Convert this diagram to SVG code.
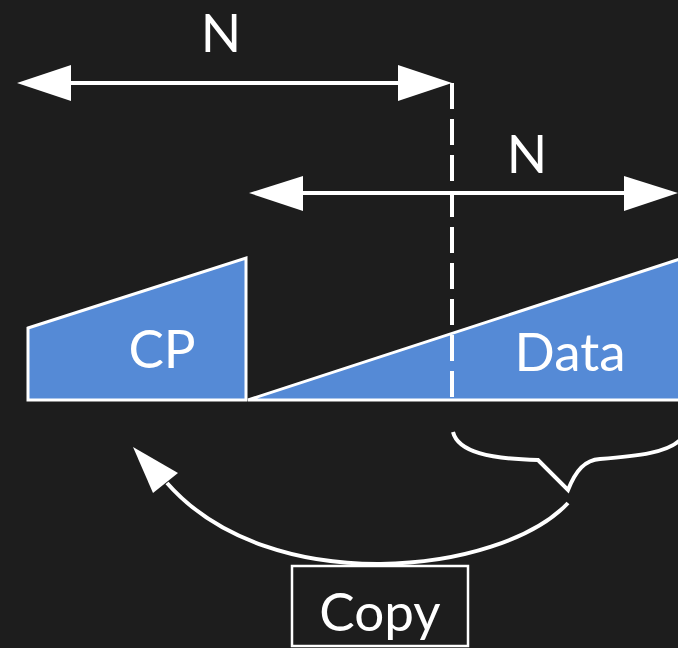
<svg xmlns="http://www.w3.org/2000/svg" width="678" height="648" viewBox="0 0 678 648">
<style>
.bg{fill:#1d1d1d}
.ln{stroke:#fff;stroke-width:4;fill:none}
.ah{fill:#fff}
.shape{fill:#558ad6;stroke:#fff;stroke-width:3;stroke-linejoin:miter}
.t{font-family:Lato,"Open Sans",sans-serif;font-size:53px;fill:#fff;text-anchor:middle}
</style>
<rect class="bg" x="0" y="0" width="678" height="648"/>
<g id="shapes">
<g id="cp"><polygon class="shape" points="28,328 246,258 246,400 28,400"/><text class="t" x="162" y="368">CP</text></g>
<g id="data"><polygon class="shape" points="248,400 680,259 680,400"/><text class="t" x="570" y="371">Data</text></g>
</g>
<g id="connectors">
<line class="ln" x1="452" y1="83" x2="452" y2="398" stroke-dasharray="26 10" stroke-width="3"/>
<line class="ln" x1="60" y1="83" x2="410" y2="83"/>
<polygon class="ah" points="17,83 71,65 71,101"/>
<polygon class="ah" points="452,83 398,65 398,101"/>
<line class="ln" x1="295" y1="193" x2="640" y2="193"/>
<polygon class="ah" points="249,193 303,176 303,211"/>
<polygon class="ah" points="678,193 624,176 624,211"/>
<path class="ln" stroke-width="3.5" d="M453,432 C458,452 490,459 538,460 L568,490 C576,470 585,460 600,459 C640,456 668,452 680,440"/>
<path class="ln" stroke-width="3.5" d="M568,503 C500,575 270,600 167,483"/>
<polygon class="ah" points="133,447 153,493 178,473"/>
</g>
<g id="labels">
<text class="t" x="221" y="52">N</text>
<text class="t" x="527" y="173">N</text>
</g>
<g id="copy"><rect x="292" y="566" width="176" height="80" fill="none" stroke="#fff" stroke-width="2.5"/><text class="t" x="380" y="631">Copy</text></g>
</svg>
